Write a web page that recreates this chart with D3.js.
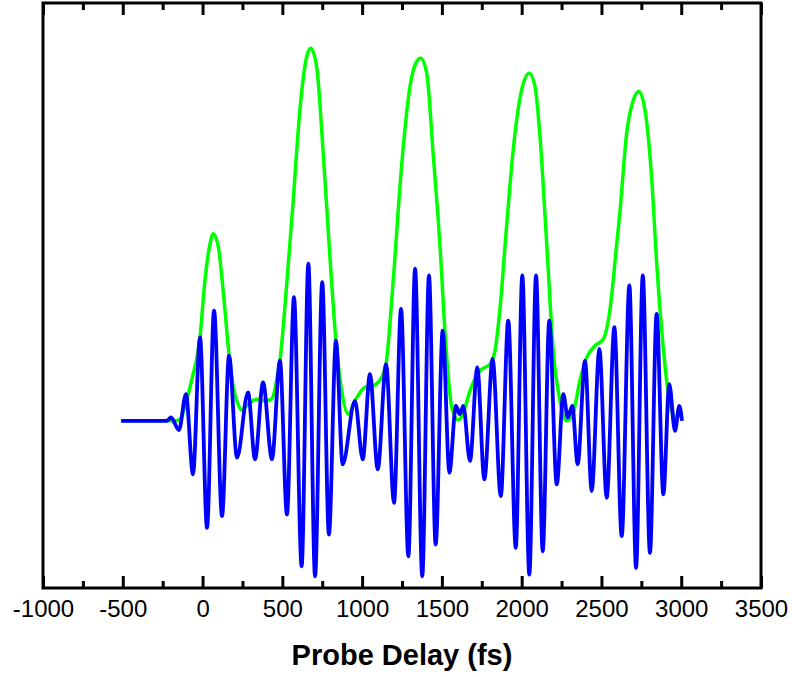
<!DOCTYPE html>
<html lang="en">
<head>
    <meta charset="UTF-8">
    <title>Probe Delay</title>
    <script src="https://d3js.org/d3.v7.min.js"></script>
    <style>
        body { margin: 0; background: #fff; }
        .axis text {
            font-family: "Liberation Sans", Arial, sans-serif;
            font-size: 24px;
            fill: #000;
        }
        .axis path { display: none; }
        .x-title {
            font-family: "Liberation Sans", Arial, sans-serif;
            font-size: 29px;
            font-weight: bold;
        }
    </style>
</head>
<body>
    <svg width="792" height="677"></svg>

    <script>
        // blue trace: turning points (fs, arb. units)
        const blueDelay = [-510, -223, -198, -148, -104, -60, -16, 28, 72, 122, 166, 216, 285, 329, 379, 435,
            485, 529, 573, 621, 663, 705, 750, 792, 836, 878, 955, 1004, 1049, 1098, 1150, 1200,
            1244, 1290, 1332, 1377, 1419, 1461, 1505, 1547, 1588, 1612, 1634, 1676, 1722, 1766, 1818, 1869,
            1916, 1963, 2004, 2048, 2090, 2132, 2173, 2220, 2261, 2289, 2317, 2351, 2397, 2439, 2487, 2533,
            2581, 2627, 2675, 2717, 2759, 2804, 2846, 2888, 2925, 2961, 2988, 3005];
        const blueSignal = [0, 0, 0.02, -0.055, 0.16, -0.32, 0.50, -0.64, 0.66, -0.57, 0.39, -0.22, 0.17, -0.23, 0.23, -0.23,
            0.36, -0.56, 0.74, -0.87, 0.94, -0.93, 0.83, -0.68, 0.48, -0.26, 0.12, -0.23, 0.28, -0.29, 0.34, -0.49,
            0.67, -0.81, 0.91, -0.93, 0.87, -0.74, 0.54, -0.31, 0.09, 0.04, 0.09, -0.24, 0.32, -0.35, 0.37, -0.45,
            0.60, -0.76, 0.87, -0.92, 0.87, -0.78, 0.60, -0.38, 0.16, 0.02, 0.09, -0.26, 0.36, -0.42, 0.43, -0.46,
            0.56, -0.69, 0.81, -0.88, 0.87, -0.79, 0.64, -0.44, 0.22, -0.06, 0.09, 0.0];

        // green envelope
        const greenDelay = [-510, -173, -141, -99, -68, -16, 15, 47, 67, 99, 130, 168, 193, 218, 245, 287, 339, 391, 433, 465,
            485, 527, 569, 611, 653, 678, 715, 757, 799, 836, 872, 913, 955, 1018, 1070, 1123, 1150, 1195, 1248, 1300,
            1342, 1367, 1405, 1446, 1488, 1523, 1562, 1603, 1645, 1676, 1739, 1802, 1833, 1864, 1906, 1948, 2000, 2048,
            2084, 2115, 2157, 2198, 2240, 2282, 2324, 2366, 2408, 2460, 2512, 2554, 2596, 2616, 2658, 2700, 2735, 2773,
            2815, 2846, 2878, 2909, 2940, 2972, 3003];
        const greenSignal = [0, 0, 0.01, 0.125, 0.245, 0.50, 0.84, 1.06, 1.12, 1.04, 0.77, 0.38, 0.20, 0.11, 0.065, 0.10, 0.13, 0.12, 0.13, 0.245,
            0.36, 0.81, 1.33, 1.87, 2.18, 2.23, 2.12, 1.59, 0.97, 0.48, 0.18, 0.04, 0.12, 0.20, 0.21, 0.26, 0.34, 0.84, 1.53, 2.00,
            2.15, 2.17, 2.08, 1.59, 1.05, 0.48, 0.08, 0.005, 0.08, 0.18, 0.30, 0.34, 0.42, 0.67, 1.17, 1.63, 1.98, 2.08,
            2.00, 1.70, 1.06, 0.42, 0.12, 0.0, 0.05, 0.245, 0.38, 0.45, 0.49, 0.67, 1.06, 1.25, 1.72, 1.92, 1.97, 1.86,
            1.45, 0.95, 0.54, 0.24, 0.06, 0.02, 0.05];

        const majorTicks = [-1000, -500, 0, 500, 1000, 1500, 2000, 2500, 3000, 3500];
        const minorTicks = [-750, -250, 250, 750, 1250, 1750, 2250, 2750, 3250];

        const margin = {top: 3, right: 31, bottom: 89, left: 43},
              width = 792 - margin.left - margin.right,
              height = 677 - margin.top - margin.bottom;

        const x = d3.scaleLinear().domain([-1000, 3500]).range([0, width]);
        const y = d3.scaleLinear().domain([-1, 2.5]).range([height, 0]);

        const svg = d3.select("svg")
          .append("g")
            .attr("transform", "translate(" + margin.left + "," + margin.top + ")");

        const line = d3.line()
            .x(d => x(d[0]))
            .y(d => y(d[1]))
            .curve(d3.curveMonotoneX);

        svg.append("path")
            .datum(greenDelay.map((d, i) => [d, greenSignal[i]]))
            .attr("fill", "none")
            .attr("stroke", "#00ff00")
            .attr("stroke-width", 3.5)
            .attr("d", line);

        svg.append("path")
            .datum(blueDelay.map((d, i) => [d, blueSignal[i]]))
            .attr("fill", "none")
            .attr("stroke", "#0000ff")
            .attr("stroke-width", 3.8)
            .attr("d", line);

        // bottom axis, ticks pointing inward
        const bottomMajor = svg.append("g")
            .attr("class", "axis")
            .attr("transform", "translate(0," + height + ")")
            .call(d3.axisBottom(x).tickValues(majorTicks).tickSize(-12).tickPadding(12)
                .tickFormat(d => String(d)));
        const bottomMinor = svg.append("g")
            .attr("class", "axis")
            .attr("transform", "translate(0," + height + ")")
            .call(d3.axisBottom(x).tickValues(minorTicks).tickSize(-7).tickFormat(""));

        // top axis, no labels
        const topMajor = svg.append("g")
            .attr("class", "axis")
            .call(d3.axisTop(x).tickValues(majorTicks).tickSize(-12).tickFormat(""));
        const topMinor = svg.append("g")
            .attr("class", "axis")
            .call(d3.axisTop(x).tickValues(minorTicks).tickSize(-7).tickFormat(""));

        [bottomMajor, bottomMinor, topMajor, topMinor].forEach(g =>
            g.selectAll(".tick line").attr("stroke", "#000").attr("stroke-width", 3));

        // frame
        svg.append("rect")
            .attr("width", width)
            .attr("height", height)
            .attr("fill", "none")
            .attr("stroke", "#000")
            .attr("stroke-width", 3);

        svg.append("text")
            .attr("class", "x-title")
            .attr("x", width / 2)
            .attr("y", height + 77)
            .attr("text-anchor", "middle")
            .text("Probe Delay (fs)");
    </script>
</body>
</html>
